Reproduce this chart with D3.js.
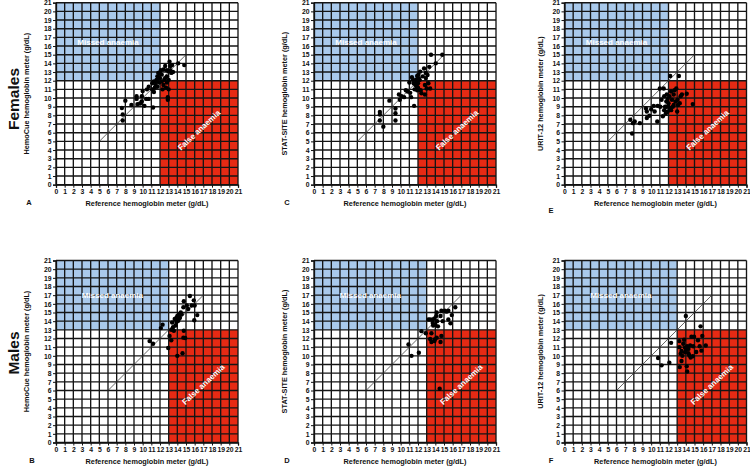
<!DOCTYPE html>
<html><head><meta charset="utf-8">
<script src="https://cdn.jsdelivr.net/npm/d3@7"></script>
<style>
html,body{margin:0;padding:0;background:#fff;}
text{font-family:"Liberation Sans",Arial,sans-serif;}
</style></head>
<body><svg id="c" width="750" height="468"></svg>
<script>
// ---------- data ----------
const sexes = ["Females", "Males"];
const meters = ["HemoCue", "STAT-SITE", "URIT-12"];
const panelLetters = [["A", "C", "E"], ["B", "D", "F"]];
const anaemiaThreshold = [12, 13];          // g/dL, females / males
const identityRange = [[5, 15], [6, 17]];    // identity line extent
const tickLabels = [0,1,2,3,4,5,6,7,8,9,10,11,12,13,14,15,16,17,18,19,20,21];
const regionLabels = ["Missed anaemia", "False anaemia"];

// [reference, meter] pairs
const femHemoCue = [[7.6,8.85],[7.7,8.1],[7.7,7.4],[8.0,9.7],[8.7,9.2],[9.3,10.2],[9.3,9.9],[9.4,9.3],[9.7,9.35],[9.9,10.2],[10.0,10.8],[9.9,9.6],[10.2,9.1],[10.4,9.9],[10.7,9.9],[10.7,11.3],[11.1,11.0],[11.2,8.9],[11.3,11.9],[11.4,11.2],[11.5,11.5],[11.6,12.1],[11.7,12.5],[11.8,12.9],[11.9,11.8],[12.0,12.3],[12.1,13.2],[12.2,12.7],[12.3,11.0],[12.4,13.3],[12.5,12.1],[12.6,13.7],[12.7,11.2],[12.8,12.5],[12.9,10.1],[12.9,9.8],[13.0,13.1],[13.1,14.2],[13.2,13.7],[13.3,12.9],[13.4,13.8],[13.5,13.0],[14.1,14.0],[14.8,13.8],[12.8,11.8],[13.0,11.0],[12.4,11.5],[11.7,11.3],[11.1,11.7],[10.5,11.0],[11.3,10.7],[11.8,12.3],[12.0,12.8],[11.6,11.9],[12.2,11.9],[12.6,12.3],[12.8,13.2],[13.0,12.1],[13.2,13.2]];
const femStatSite = [[7.6,8.4],[7.6,8.1],[7.6,7.4],[8.0,6.7],[8.7,9.7],[9.4,8.8],[9.4,8.25],[9.4,7.4],[9.8,10.4],[9.9,9.8],[10.1,10.2],[10.4,10.1],[10.6,10.9],[10.8,10.75],[11.0,11.8],[11.1,10.6],[11.2,10.1],[11.3,12.4],[11.4,12.1],[11.55,9.1],[11.6,11.0],[11.7,11.5],[11.75,12.1],[11.9,12.55],[11.9,11.25],[12.0,11.7],[12.2,12.1],[12.3,10.9],[12.25,13.05],[12.4,10.55],[12.55,12.5],[12.7,13.4],[12.8,11.5],[12.8,10.4],[12.9,12.9],[13.0,11.1],[13.1,12.65],[13.2,11.7],[13.3,13.6],[13.4,11.1],[13.5,15.0],[14.05,14.0],[14.8,15.0],[12.1,12.3],[11.8,11.8],[11.9,10.9],[12.05,12.7],[11.5,11.7],[12.0,11.2],[12.9,12.3]];
const femUrit = [[7.6,7.5],[7.8,5.9],[7.9,7.1],[8.1,7.3],[8.7,7.1],[9.4,8.8],[9.5,8.45],[9.5,7.7],[9.8,7.95],[10.0,8.7],[10.3,9.1],[10.4,8.45],[10.7,7.3],[10.75,9.1],[11.0,11.1],[11.05,9.0],[11.2,9.8],[11.35,7.9],[11.45,11.1],[11.5,10.2],[11.6,9.0],[11.7,8.25],[11.75,9.6],[11.8,10.4],[11.9,8.45],[12.0,9.4],[12.1,10.2],[12.2,12.55],[12.2,8.8],[12.3,10.75],[12.4,9.8],[12.5,9.0],[12.6,10.4],[12.7,10.9],[12.8,9.6],[12.9,11.1],[13.0,8.45],[13.05,9.8],[13.2,12.55],[13.3,9.4],[13.4,10.2],[13.55,10.4],[14.1,10.5],[14.8,9.3],[12.0,9.0],[11.75,9.0],[11.5,8.6],[11.9,9.9],[12.3,8.6],[12.6,9.2],[13.1,9.2]];
const maleHemoCue = [[10.8,11.7],[11.2,11.4],[12.1,13.2],[12.3,13.6],[12.95,10.9],[13.1,12.3],[13.3,11.8],[13.3,13.0],[13.4,13.85],[13.6,12.9],[13.7,14.25],[13.8,13.5],[14.0,10.0],[14.0,14.6],[14.1,14.05],[14.2,14.8],[14.3,14.4],[14.4,15.0],[14.5,14.8],[14.6,10.3],[14.7,12.1],[14.75,12.9],[14.9,12.05],[14.7,15.6],[14.75,16.3],[15.1,15.8],[15.25,15.4],[15.45,16.9],[15.65,15.8],[15.9,16.4],[16.0,15.8],[15.95,14.1],[16.3,14.7],[13.9,14.4],[14.2,14.3],[13.5,13.3],[13.9,13.9]];
const maleStatSite = [[10.9,11.3],[11.25,10.0],[12.1,10.35],[12.4,12.85],[12.9,12.6],[13.2,14.2],[13.4,14.2],[13.4,11.95],[13.55,12.6],[13.55,11.6],[13.7,13.8],[13.75,13.5],[13.9,14.3],[13.95,11.9],[14.0,13.6],[14.15,12.1],[14.15,15.0],[14.2,14.0],[14.3,13.4],[14.5,6.2],[14.6,14.6],[14.6,11.6],[14.7,12.3],[14.7,15.2],[14.85,14.0],[15.1,15.2],[15.3,15.1],[15.5,14.2],[15.5,15.2],[15.75,13.75],[15.9,14.7],[16.3,15.6],[14.1,14.6],[13.7,14.2],[13.9,11.7]];
const maleUrit = [[10.8,9.75],[11.2,8.9],[12.3,11.5],[12.1,9.2],[13.25,11.7],[13.3,8.7],[13.4,10.25],[13.5,9.4],[13.6,10.0],[13.7,11.4],[13.8,11.85],[13.9,10.95],[14.0,14.6],[14.0,10.6],[14.1,8.8],[14.15,8.2],[14.15,11.1],[14.3,10.8],[14.4,10.05],[14.5,11.2],[14.55,9.8],[14.65,12.2],[14.8,9.95],[14.85,11.1],[14.95,12.2],[15.2,10.45],[15.4,11.8],[15.6,11.1],[15.7,13.4],[15.8,10.6],[15.9,12.3],[16.3,11.2],[13.9,10.4],[13.5,10.55],[14.3,10.3],[13.25,11.0],[14.1,10.9]];
const panelData = [[femHemoCue, femStatSite, femUrit], [maleHemoCue, maleStatSite, maleUrit]];

// ---------- layout ----------
const colX = [56, 314, 564.5];
const rowY = [2.7, 260.5];
const size = 182;
const blue = "#a9c9eb", red = "#e62a14";

const svg = d3.select("#c");

sexes.forEach((sex, r) => {
  const thr = anaemiaThreshold[r];
  meters.forEach((meter, c) => {
    const x = d3.scaleLinear().domain([0, 21]).range([colX[c], colX[c] + size]);
    const y = d3.scaleLinear().domain([0, 21]).range([rowY[r] + size, rowY[r]]);
    const g = svg.append("g");

    // regions
    g.append("rect").attr("x", x(0)).attr("y", y(21)).attr("width", x(thr) - x(0)).attr("height", y(thr) - y(21)).attr("fill", blue);
    g.append("rect").attr("x", x(thr)).attr("y", y(thr)).attr("width", x(21) - x(thr)).attr("height", y(0) - y(thr)).attr("fill", red);

    // grid
    g.selectAll(".gv").data(tickLabels).enter().append("line")
      .attr("x1", d => x(d)).attr("x2", d => x(d)).attr("y1", y(0)).attr("y2", y(21))
      .attr("stroke", "#151515").attr("stroke-width", 1.35);
    g.selectAll(".gh").data(tickLabels).enter().append("line")
      .attr("y1", d => y(d)).attr("y2", d => y(d)).attr("x1", x(0)).attr("x2", x(21))
      .attr("stroke", "#151515").attr("stroke-width", 1.35);

    // axes
    const ax = g.append("g").attr("transform", `translate(0,${y(0)})`)
      .call(d3.axisBottom(x).tickValues(tickLabels).tickSize(3).tickPadding(1.5).tickFormat(d3.format("d")));
    const ay = g.append("g").attr("transform", `translate(${x(0)},0)`)
      .call(d3.axisLeft(y).tickValues(tickLabels).tickSize(3).tickPadding(1.5).tickFormat(d3.format("d")));
    [ax, ay].forEach(a => {
      a.select(".domain").attr("stroke", "#111").attr("stroke-width", 1.3);
      a.selectAll(".tick line").attr("stroke", "#111").attr("stroke-width", 1);
      a.selectAll("text").attr("font-size", 6.8).attr("font-weight", "bold").attr("fill", "#111")
        .attr("font-family", "Liberation Sans, Arial, sans-serif");
    });

    // identity line
    const [a0, a1] = identityRange[r];
    g.append("line").attr("x1", x(a0)).attr("y1", y(a0)).attr("x2", x(a1)).attr("y2", y(a1))
      .attr("stroke", "#333").attr("stroke-width", 0.75);

    // points
    g.selectAll(".pt").data(panelData[r][c]).enter().append("circle")
      .attr("cx", d => x(d[0])).attr("cy", d => y(d[1])).attr("r", 2.2).attr("fill", "#000");

    // region labels
    g.append("text").attr("x", x(thr / 2)).attr("y", y(r === 0 ? 16.5 : 17.0)).attr("dy", "0.35em")
      .attr("text-anchor", "middle").attr("font-size", 8).attr("font-weight", "bold").attr("fill", "#fff")
      .text(regionLabels[0]);
    const fx = x(thr + (21 - thr) / 2), fy = y(r === 0 ? 6.3 : 6.7);
    g.append("text").attr("transform", `translate(${fx},${fy}) rotate(-43)`).attr("dy", "0.35em")
      .attr("text-anchor", "middle").attr("font-size", 8).attr("font-weight", "bold").attr("fill", "#fff")
      .text(regionLabels[1]);

    // axis titles
    g.append("text").attr("x", x(10.5)).attr("y", y(0) + 21.5).attr("text-anchor", "middle")
      .attr("font-size", 7.3).attr("font-weight", "bold").attr("fill", "#111")
      .text("Reference hemoglobin meter (g/dL)");
    const ytx = x(0) - (c === 2 ? 21.5 : 27.5);
    g.append("text").attr("transform", `translate(${ytx},${y(10.5)}) rotate(-90)`).attr("text-anchor", "middle")
      .attr("font-size", 7.3).attr("font-weight", "bold").attr("fill", "#111")
      .text(meter + " hemoglobin meter (g/dL)");

    // panel letter
    const lx = x(0) - (c === 2 ? 13.5 : (r === 1 && c === 0 ? 24 : 27));
    const ly = r === 0 ? (c === 2 ? 213 : 204.5) : 462.5;
    g.append("text").attr("x", lx).attr("y", ly).attr("text-anchor", "middle")
      .attr("font-size", 7.5).attr("font-weight", "bold").attr("fill", "#111").text(panelLetters[r][c]);
  });

  // row label
  svg.append("text").attr("transform", `translate(18.5,${r === 0 ? 99 : 353}) rotate(-90)`)
    .attr("text-anchor", "middle").attr("font-size", 15.5).attr("font-weight", "bold").attr("fill", "#111")
    .text(sex);
});
</script></body></html>
